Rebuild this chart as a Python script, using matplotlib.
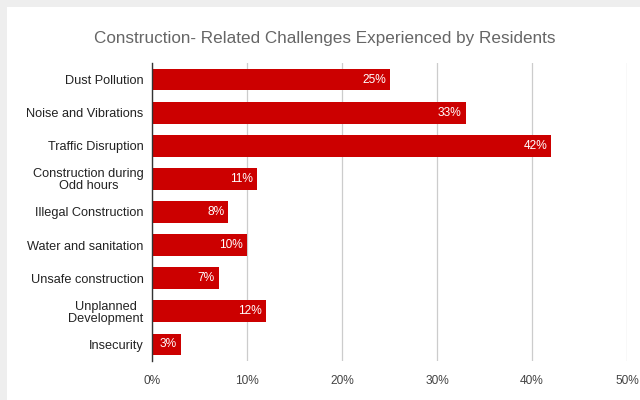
import matplotlib
matplotlib.use("Agg")
import matplotlib.pyplot as plt
from matplotlib.patches import Rectangle

categories = [
    "Dust Pollution",
    "Noise and Vibrations",
    "Traffic Disruption",
    "Construction during\nOdd hours",
    "Illegal Construction",
    "Water and sanitation",
    "Unsafe construction",
    "Unplanned\nDevelopment",
    "Insecurity",
]
values = [25, 33, 42, 11, 8, 10, 7, 12, 3]
x_ticks = [0, 10, 20, 30, 40, 50]
x_tick_labels = ["0%", "10%", "20%", "30%", "40%", "50%"]
title = "Construction- Related Challenges Experienced by Residents"

plt.rcParams["font.family"] = ["Liberation Sans", "DejaVu Sans"]

W, H = 640, 400
fig = plt.figure(figsize=(W / 100, H / 100), dpi=100, facecolor="white")

# light grey frame along the top and left edges
frame = "#eeeeee"
fig.patches.append(Rectangle((0, 1 - 7 / H), 1, 7 / H, transform=fig.transFigure,
                             facecolor=frame, edgecolor="none", zorder=0))
fig.patches.append(Rectangle((0, 0), 7 / W, 1, transform=fig.transFigure,
                             facecolor=frame, edgecolor="none", zorder=0))

left, right = 152 / W, 627 / W
top, bottom = 1 - 63 / H, 1 - 361 / H
ax = fig.add_axes([left, bottom, right - left, top - bottom])

ypos = list(range(len(categories)))
ax.barh(ypos, values, height=0.66, color="#cc0000", zorder=3)

for y, v in zip(ypos, values):
    ax.text(v - 0.4, y, f"{v}%", ha="right", va="center", color="white",
            fontsize=8.6, zorder=4)

ax.set_ylim(len(categories) - 0.5, -0.5)
ax.set_xlim(0, 50)
ax.set_yticks(ypos)
ax.set_yticklabels(categories, fontsize=9.2, color="#222222",
                   multialignment="center", linespacing=1.0)
ax.set_xticks(x_ticks)
ax.set_xticklabels(x_tick_labels, fontsize=8.6, color="#444444")
ax.tick_params(axis="both", length=0)
ax.tick_params(axis="y", pad=6)
ax.tick_params(axis="x", pad=10)

ax.grid(axis="x", color="#cccccc", linewidth=0.9, zorder=0)
for s in ["top", "right", "bottom"]:
    ax.spines[s].set_visible(False)
ax.spines["left"].set_color("#333333")
ax.spines["left"].set_linewidth(1.0)
ax.spines["left"].set_zorder(5)

fig.text(0.508, 1 - 38 / H, title, ha="center", va="center",
         fontsize=12.3, color="#666666")

fig.savefig("out.png", dpi=100, facecolor="white")
